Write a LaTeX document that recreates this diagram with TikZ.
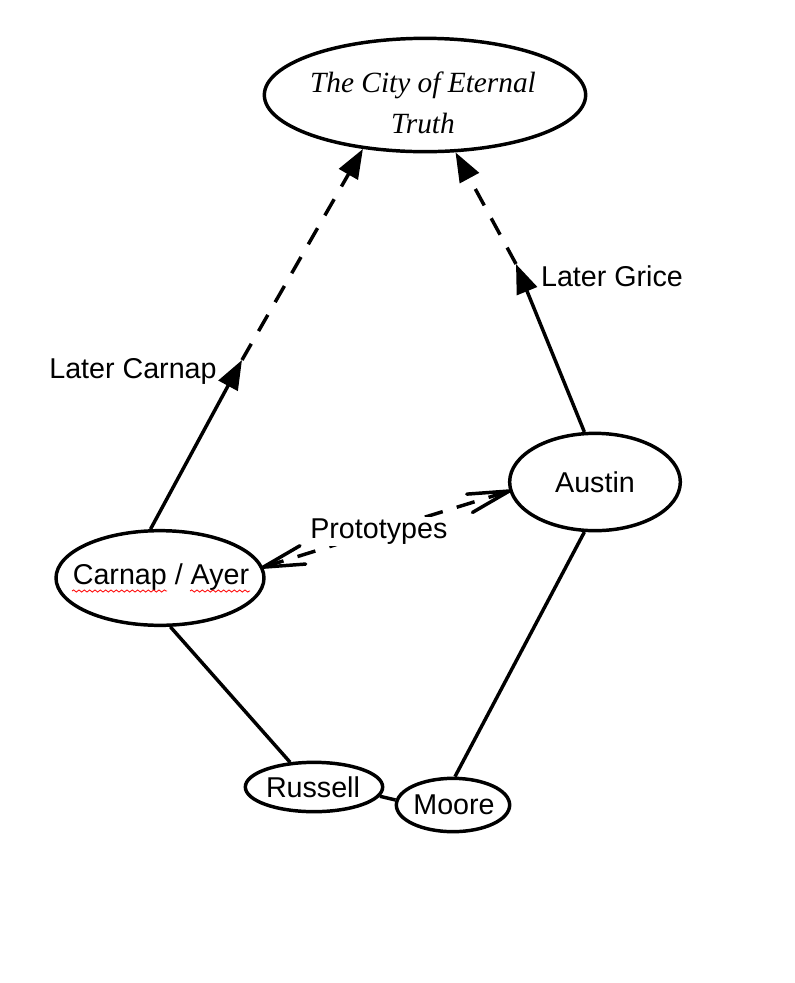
\documentclass[tikz,border=0pt]{standalone}
\usepackage{fontspec}
\setmainfont{Liberation Sans}
\newfontfamily\cityfont{Liberation Serif}
\usetikzlibrary{arrows.meta,shapes.geometric,decorations.pathmorphing,calc}
\begin{document}
\begin{tikzpicture}[x=0.75pt,y=-0.75pt,
  oval/.style={ellipse,draw,line width=2.6pt,inner sep=0pt},
  txt/.style={font=\fontsize{21.5}{25}\selectfont,inner sep=0pt},
  link/.style={line width=2.6pt},
  solidarr/.style={line width=2.6pt,-{Triangle[length=22pt,width=16pt]}},
  dasharr/.style={line width=2.6pt,dash pattern=on 14pt off 11pt,-{Triangle[length=22pt,width=16pt]}},
  vhead/.style={line width=2.6pt,line cap=round,line join=round},
  lbl/.style={font=\fontsize{21.5}{25}\selectfont,inner sep=1pt},
  squig/.style={red,line width=0.6pt,decorate,decoration={snake,amplitude=0.8pt,segment length=4pt}}]
\useasboundingbox (0,0) rectangle (794,983);
\node[oval,minimum width=241pt,minimum height=85pt] (city) at (425,95) {};
\node[txt,align=center,font=\cityfont\itshape\fontsize{22}{31}\selectfont] (citytext) at (423,103)
  {The City of Eternal\\Truth};
\node[oval,minimum width=128pt,minimum height=73pt] (austin) at (595,482) {};
\node[txt] (austintext) at (595,482) {Austin};
\node[oval,minimum width=156pt,minimum height=71pt] (carnap) at (160,578) {};
\node[txt] (carnaptext) at (161,577) {Carnap / Ayer};
\node[oval,minimum width=103pt,minimum height=37pt] (russell) at (314,787) {};
\node[txt] (russelltext) at (313,787) {Russell};
\node[oval,minimum width=85pt,minimum height=40pt] (moore) at (453,805) {};
\node[txt] (mooretext) at (454,805) {Moore};
\coordinate (cm1) at (242,360);
\coordinate (cm2) at (516,264);
\draw[solidarr] (carnap.101) -- (cm1);
\draw[dasharr] (cm1) -- (city.221);
\draw[solidarr] (austin.102) -- (cm2);
\draw[dasharr] (cm2) -- (city.298);
% Prototypes double-headed dashed connector
\coordinate (pa) at (carnap.6);
\coordinate (pb) at (austin.186);
\draw[link,dash pattern=on 14pt off 11pt,shorten <=2pt,shorten >=2pt]
  (pa) -- node[lbl,fill=white,pos=0.47] (proto) {Prototypes} (pb);
\draw[vhead] ($(pa)!32pt!13:(pb)$) -- (pa) -- ($(pa)!32pt!-13:(pb)$);
\draw[vhead] ($(pb)!32pt!13:(pa)$) -- (pb) -- ($(pb)!32pt!-13:(pa)$);
\draw[link] (carnap.-78) -- (russell.134);
\draw[link] (austin.258) -- (moore.86);
\draw[link] (russell.-8) -- (moore.175);
\node[lbl] (lc) at (133,371) {Later Carnap};
\node[lbl] (lg) at (612,276) {Later Grice};
\coordinate (s1a) at (72,591); \coordinate (s1b) at (167,591);
\coordinate (s2a) at (190,591); \coordinate (s2b) at (250,591);
\draw[squig] (s1a) -- (s1b);
\draw[squig] (s2a) -- (s2b);
\end{tikzpicture}
\end{document}
